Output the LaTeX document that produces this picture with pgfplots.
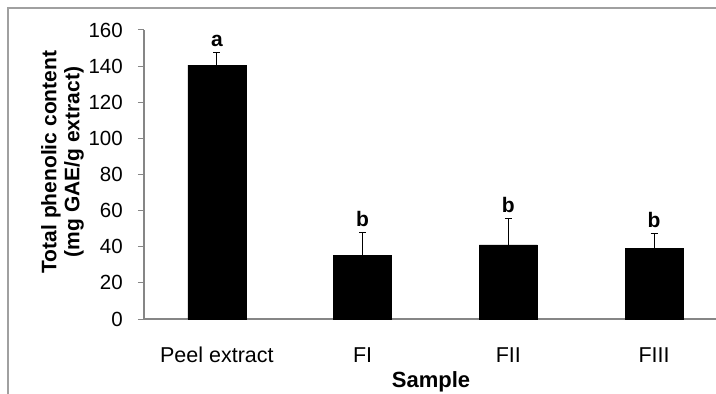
\documentclass[border=0pt]{standalone}
\usepackage{fontspec}
\setmainfont{Liberation Sans}
\usepackage{pgfplots}
\pgfplotsset{compat=1.18}
\definecolor{axgray}{RGB}{134,134,134}
\definecolor{bordergray}{RGB}{160,160,160}
\pgfplotstableread{
x y e
0 140.6 6.7
1 35.4 12.4
2 41.0 14.5
3 39.3 7.8
}\bars
\pgfplotstableread{
x top lbl
0 147.3 a
1 47.8 b
2 55.5 b
3 47.1 b
}\letters
\begin{document}
\begin{tikzpicture}[x=1pt,y=1pt]
\useasboundingbox (0,0) rectangle (716,394);
\begin{scope}
\clip (0,0) rectangle (716,394);
\begin{axis}[
  at={(144pt,75pt)}, anchor=south west,
  scale only axis, width=583pt, height=289pt,
  xmin=-0.5, xmax=3.5, ymin=0, ymax=160,
  axis x line*=bottom, axis y line*=left,
  axis line style={axgray, line width=1.2pt},
  tick align=outside,
  ytick={0,20,...,160},
  major tick length=6pt,
  y tick style={axgray, line width=1pt},
  xtick={0,1,2,3},
  xticklabels={Peel extract, FI, FII, FIII},
  x tick style={draw=none},
  minor xtick={-0.5,0.5,1.5,2.5,3.5},
  minor tick length=6pt,
  minor x tick style={axgray, line width=1pt},
  /pgf/number format/assume math mode=true,
  yticklabel style={font=\fontsize{20.5}{24}\selectfont, inner sep=0pt, xshift=-15pt},
  xticklabel style={font=\fontsize{21.5}{24}\selectfont, anchor=base, yshift=-37pt},
  ylabel={Total phenolic content\\(mg GAE/g extract)},
  ylabel style={align=center, font=\fontsize{21}{23}\selectfont\bfseries, inner sep=0pt,
    at={(axis description cs:-0.1029,0.543)}, anchor=south},
  xlabel={Sample},
  xlabel style={font=\fontsize{22}{24}\selectfont\bfseries, inner sep=0pt,
    at={(axis description cs:0.4923,-0.2353)}, anchor=base},
]
\addplot[ybar, bar width=58pt, fill=black, draw=black,
  error bars/.cd, y dir=plus, y explicit,
  error bar style={black, line width=1pt},
  error mark options={black, rotate=90, mark size=3.5pt, line width=1pt}]
  table[x=x, y=y, y error=e] {\bars};
\addplot[draw=none, mark=none, nodes near coords, point meta=explicit symbolic,
  nodes near coords style={font=\fontsize{21}{24}\selectfont\bfseries, anchor=south, inner sep=0pt, yshift=6pt}]
  table[x=x, y=top, meta=lbl] {\letters};
\end{axis}
\end{scope}
\draw[bordergray, line width=1.2pt] (8,0) -- (8,386) -- (716,386);
\end{tikzpicture}
\end{document}
